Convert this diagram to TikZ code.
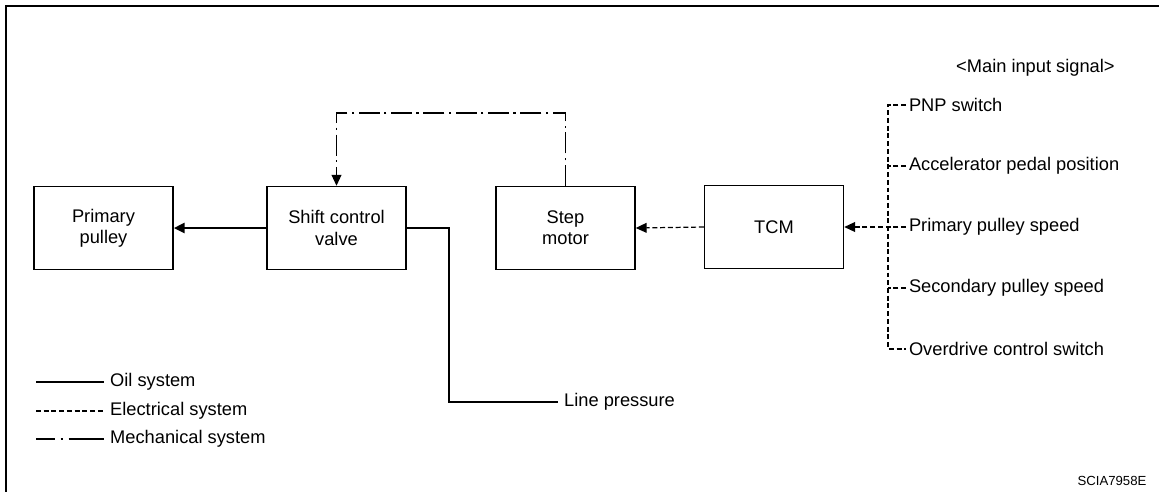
\documentclass[tikz,border=0pt]{standalone}
\usepackage{fontspec}
\setmainfont{Liberation Sans}
\usetikzlibrary{arrows.meta}
\begin{document}
\begin{tikzpicture}[x=0.02cm, y=-0.02cm,
        font=\fontsize{10.4}{12}\selectfont,
        blocco/.style={draw, line width=0.85pt, minimum width=2.78cm, minimum height=1.66cm, align=center},
        olio/.style={line width=1.6pt},
        elettr/.style={line width=0.7pt, dash pattern=on 2.8pt off 1.6pt},
        mecc/.style={line width=0.7pt, dash pattern=on 12pt off 2.5pt on 1.4pt off 2.5pt},
        punta/.style={-{Triangle[length=6.2pt,width=5.6pt]}},
        segnale/.style={anchor=west, inner sep=1.5pt}]
        \useasboundingbox (0,0) rectangle (1159,491);

        % Cornice
        \draw[line width=1.7pt] (6,500) -- (6,6) -- (1170,6);

        % Blocchi
        \node[blocco] (prim) at (103.5,228) {Primary\\pulley};
        \node[blocco] (valv) at (336.5,228) {Shift control\\valve};
        \node[blocco] (mot) at (565.5,228) {Step\\motor};
        \node[blocco] (tcm) at (774,227) {TCM};

        % Segnali di ingresso
        \node[anchor=east, inner sep=0pt] (titolo) at (1115,68) {<Main input signal>};
        \node[segnale] (s1) at (906,105) {PNP switch};
        \node[segnale] (s2) at (906,166) {Accelerator pedal position};
        \node[segnale] (s3) at (906,227) {Primary pulley speed};
        \node[segnale] (s4) at (906,288) {Secondary pulley speed};
        \node[segnale] (s5) at (906,349) {Overdrive control switch};

        % Linea comune dei segnali
        \coordinate (busA) at (888,105);
        \coordinate (busB) at (888,349);
        \draw[elettr] (s1.west) -- (busA) -- (busB) -- (s5.west);
        \draw[elettr] (s2.west) -- (s2.west -| busA);
        \draw[elettr] (s4.west) -- (s4.west -| busA);

        % Collegamenti elettrici
        \draw[elettr, punta] (s3.west) -- (tcm.east);
        \draw[elettr, punta] (tcm.west) -- (mot.west -| mot.east);

        % Circuito olio
        \draw[olio, punta] (valv.west) -- (prim.east);
        \coordinate (gomito) at (449,402);
        \node[anchor=west] (linea) at (558,402) {Line pressure};
        \draw[olio] (valv.east) -| (gomito) -- (linea.west);

        % Collegamento meccanico
        \coordinate (angolo) at (336.5,113);
        \draw[mecc, punta] (mot.north) |- (angolo) -- (valv.north);

        % Legenda
        \coordinate (l1) at (36,382);
        \coordinate (l2) at (36,411);
        \coordinate (l3) at (36,439);
        \node[anchor=west] (leg1) at (104,382) {Oil system};
        \node[anchor=west] (leg2) at (104,411) {Electrical system};
        \node[anchor=west] (leg3) at (104,439) {Mechanical system};
        \draw[olio] (l1) -- (leg1.west);
        \draw[elettr] (l2) -- (leg2.west);
        \draw[line width=0.7pt, dash pattern=on 11pt off 3pt on 1.5pt off 3pt on 30pt] (l3) -- (leg3.west);

        % Codice figura
        \node[font=\fontsize{7.5}{9}\selectfont] (codice) at (1112,481) {SCIA7958E};

    \end{tikzpicture}
\end{document}
